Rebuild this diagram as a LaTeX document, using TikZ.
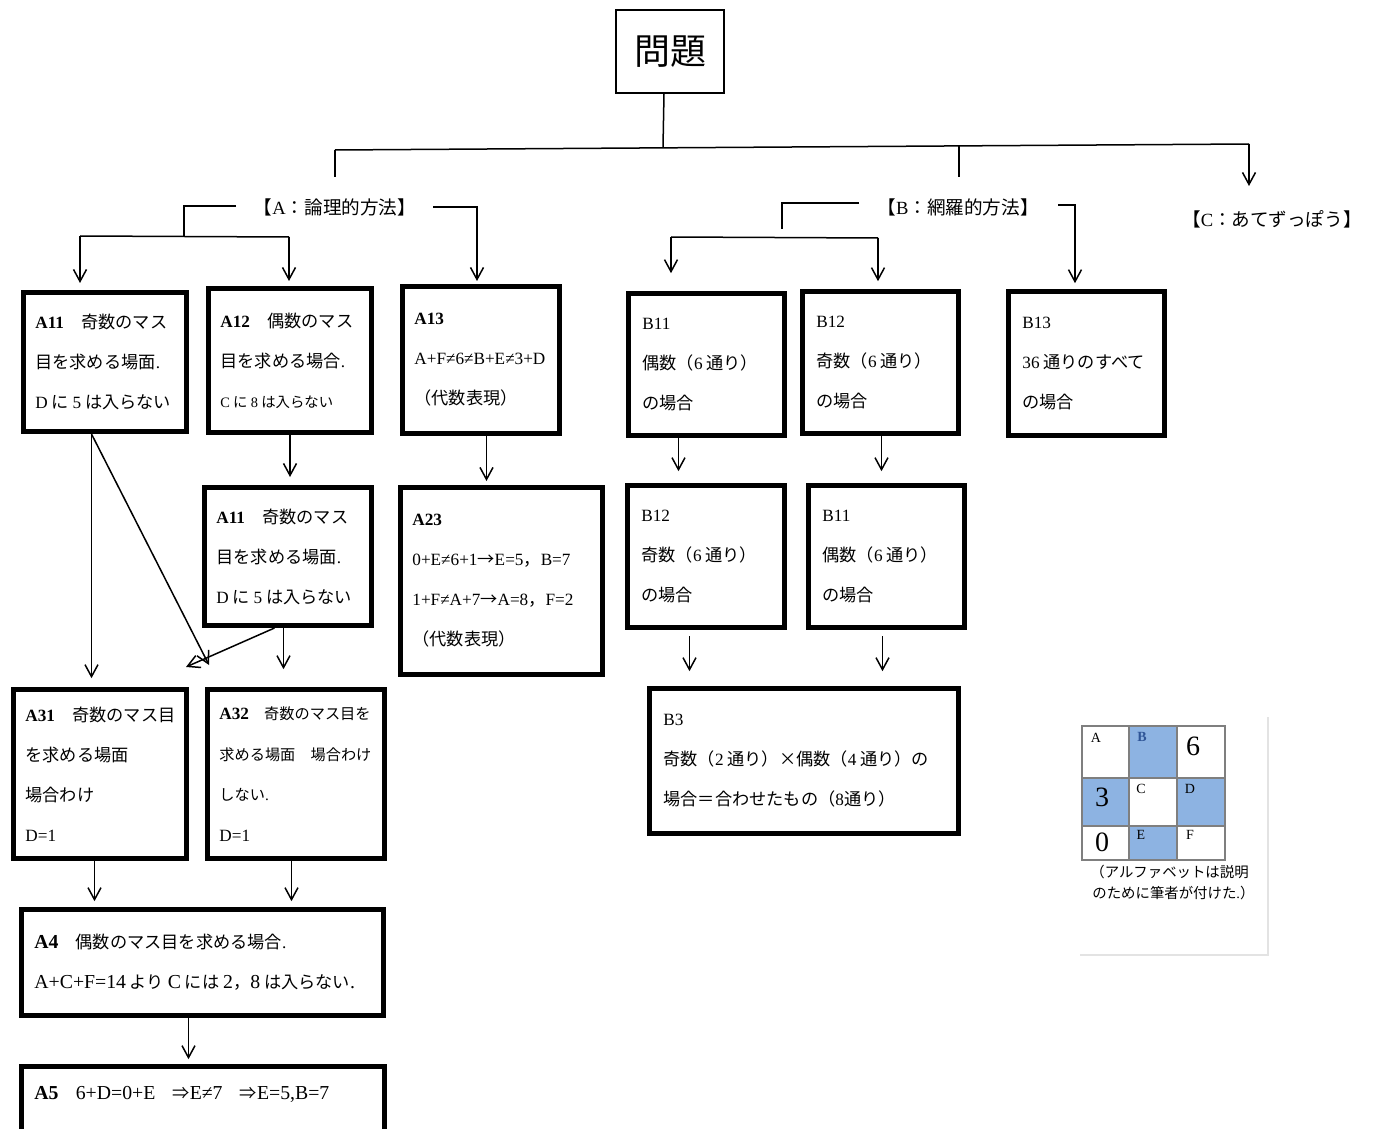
\documentclass[tikz,border=0pt]{standalone}
\usepackage{fontspec}
\setmainfont{Noto Sans CJK JP}
\newfontfamily\la{Liberation Serif}
\newfontfamily\lb[Scale=1.15]{Liberation Serif}
\usetikzlibrary{arrows.meta,calc}
\definecolor{cellblue}{HTML}{8DB3E2}
\definecolor{bletter}{HTML}{2F5597}
\definecolor{gridgray}{HTML}{7F7F7F}
\definecolor{framegray}{HTML}{E3E3E3}
\tikzset{
  con/.style={line width=0.75pt},
  arr/.style={con,-{Straight Barb[length=6pt,width=6.5pt,line width=0.75pt]}},
  box/.style={draw,line width=2.5pt,anchor=north west,inner sep=0pt},
  txt/.style={anchor=west,align=left,inner sep=0pt,font=\fontsize{8.6pt}{20pt}\selectfont},
  head/.style={inner sep=0pt,font=\fontsize{9.3pt}{11pt}\selectfont},
  cellsmall/.style={inner sep=0pt,font=\la\fontsize{7pt}{8pt}\selectfont},
  cellbig/.style={inner sep=0pt,font=\la\fontsize{14pt}{15pt}\selectfont},
  capt/.style={anchor=west,inner sep=0pt,font=\fontsize{7.2pt}{8pt}\selectfont},
}
\begin{document}
\begin{tikzpicture}[x=0.5pt,y=-0.5pt]
\useasboundingbox (0,0) rectangle (1373,1129);

% ---------- boxes ----------
\node[draw,line width=1pt,anchor=north west,inner sep=0pt,minimum width=54pt,minimum height=41.5pt,font=\fontsize{18pt}{20pt}\selectfont] (mondai) at (615,9) {問題};

\node[box,minimum width=81.5pt,minimum height=69.5pt] (a11) at (21,290) {};
\node[box,minimum width=81.5pt,minimum height=72pt] (a12) at (206,286) {};
\node[box,minimum width=78.5pt,minimum height=73.5pt] (a13) at (400,284) {};
\node[box,minimum width=83.5pt,minimum height=69pt] (a11b) at (202,485) {};
\node[box,minimum width=101pt,minimum height=93.5pt] (a23) at (398,485) {};
\node[box,minimum width=86.5pt,minimum height=84.5pt] (a31) at (11,687) {};
\node[box,minimum width=88.5pt,minimum height=84.5pt] (a32) at (205,687) {};
\node[box,minimum width=181pt,minimum height=53pt] (a4) at (19,907) {};
\node[box,minimum width=181.5pt,minimum height=53pt] (a5) at (19,1064) {};

\node[box,minimum width=78pt,minimum height=71pt] (b11) at (626,291) {};
\node[box,minimum width=78pt,minimum height=71pt] (b12) at (800,289) {};
\node[box,minimum width=78pt,minimum height=72pt] (b13) at (1006,289) {};
\node[box,minimum width=78.5pt,minimum height=71pt] (b12b) at (625,483) {};
\node[box,minimum width=78pt,minimum height=71pt] (b11b) at (806,483) {};
\node[box,minimum width=154.5pt,minimum height=72.5pt] (b3) at (647,686) {};

% ---------- box texts ----------
\node[txt] (a11t) at ([xshift=7pt]a11.west) {{\la\bfseries A11}　奇数のマス\\目を求める場面{\la .}\\{\la D} に {\la 5} は入らない};
\node[txt] (a12t) at ([xshift=7pt]a12.west) {{\la\bfseries A12}　偶数のマス\\目を求める場合{\la .}\\{\fontsize{7.2pt}{20pt}\selectfont{\la C} に {\la 8} は入らない}};
\node[txt] (a13t) at ([xshift=7pt]a13.west) {{\la\bfseries A13}\\{\la A+F≠6≠B+E≠3+D}\\（代数表現）};
\node[txt] (a11bt) at ([xshift=7pt]a11b.west) {{\la\bfseries A11}　奇数のマス\\目を求める場面{\la .}\\{\la D} に {\la 5} は入らない};
\node[txt] (a23t) at ([xshift=7pt]a23.west) {{\la\bfseries A23}\\{\la 0+E≠6+1}→{\la E=5}，{\la B=7}\\{\la 1+F≠A+7}→{\la A=8}，{\la F=2}\\（代数表現）};
\node[txt] (a31t) at ([xshift=7pt]a31.west) {{\la\bfseries A31}　奇数のマス目\\を求める場面\\場合わけ\\{\la D=1}};
\node[txt,font=\fontsize{7.6pt}{20.3pt}\selectfont] (a32t) at ([xshift=7pt]a32.west) {{\la\bfseries\fontsize{8.6pt}{20.3pt}\selectfont A32}　奇数のマス目を\\求める場面　場合わけ\\しない{\la .}\\{\la\fontsize{8.6pt}{20.3pt}\selectfont D=1}};
\node[txt] (a4t) at ([xshift=7.5pt]a4.west) {{\lb\bfseries A4}　偶数のマス目を求める場合{\la .}\\{\lb A+C+F=14} より {\lb C} には {\lb 2}，{\lb 8} は入らない{\lb .}};
\node[txt] (a5t) at ([xshift=7.5pt,yshift=-15pt]a5.north west) {{\lb\bfseries A5}　{\lb 6+D=0+E}　⇒{\lb E≠7}　⇒{\lb E=5,B=7}};

\node[txt] (b11t) at ([xshift=8pt]b11.west) {{\la B11}\\偶数（{\la 6} 通り）\\の場合};
\node[txt] (b12t) at ([xshift=8pt]b12.west) {{\la B12}\\奇数（{\la 6} 通り）\\の場合};
\node[txt] (b13t) at ([xshift=8pt]b13.west) {{\la B13}\\{\la 36} 通りのすべて\\の場合};
\node[txt] (b12bt) at ([xshift=8pt]b12b.west) {{\la B12}\\奇数（{\la 6} 通り）\\の場合};
\node[txt] (b11bt) at ([xshift=8pt]b11b.west) {{\la B11}\\偶数（{\la 6} 通り）\\の場合};
\node[txt] (b3t) at ([xshift=8pt]b3.west) {{\la B3}\\奇数（{\la 2} 通り）×偶数（{\la 4} 通り）の\\場合＝合わせたもの（{\la 8}通り）};

% ---------- headings ----------
\node[head] (labA) at (335,207) {【{\la A}：論理的方法】};
\node[head] (labB) at (958,207) {【{\la B}：網羅的方法】};
\node[head] (labC) at (1272,219) {【{\la C}：あてずっぽう】};

% ---------- top connectors ----------
\coordinate (busL) at (335,150);
\coordinate (busR) at (1249,144);
\coordinate (busM) at (663,147);
\coordinate (dropA) at (335,177);
\coordinate (busB) at (959,146);
\coordinate (dropB) at (959,177);
\coordinate (arrC) at (1249,186);
\draw[con] ([xshift=-3pt]mondai.south) -- (busM);
\draw[con] (busL) -- (busR);
\draw[con] (busL) -- (dropA);
\draw[con] (busB) -- (dropB);
\draw[arr] (busR) -- (arrC);

% ---------- A branch ----------
\coordinate (aL0) at (236,206);
\coordinate (aL1) at (184,206);
\coordinate (aL2) at (184,236);
\coordinate (aH1) at (80,236);
\coordinate (aH2) at (289,237);
\draw[con] (aL0) -- (aL1) -- (aL2);
\draw[con] (aH1) -- (aH2);
\draw[arr,shorten >=3.5pt] (aH1) -- (aH1 |- a11.north);
\draw[arr,shorten >=2.5pt] (aH2) -- (aH2 |- a12.north);
\coordinate (aR0) at (433,207);
\coordinate (aR1) at (477,207);
\draw[arr,shorten >=1.5pt] (aR0) -- (aR1) -- (aR1 |- a13.north);

\draw[arr,shorten >=4pt] (a12.south) -- (a12.south |- a11b.north);
\draw[arr,shorten >=2pt] ([xshift=2.75pt]a13.south) -- ([xshift=2.75pt]a13.south |- a23.north);

\coordinate (a11s) at ([xshift=-6.75pt]a11.south);
\coordinate (x1tip) at (209,665);
\draw[arr,shorten >=4.4pt] (a11s) -- (a11s |- a31.north);
\draw[arr] (a11s) -- (x1tip);
\coordinate (a11bs) at ([xshift=-6.75pt]a11b.south);
\coordinate (x2tip) at (186,667);
\draw[arr] (a11bs) -- (x2tip);
\draw[arr,shorten >=8.9pt] ([xshift=-2.25pt]a11b.south) -- ([xshift=-2.25pt]a11b.south |- a32.north);

\draw[arr,shorten >=2.9pt] ([xshift=-2.75pt]a31.south) -- ([xshift=-2.75pt]a31.south |- a4.north);
\draw[arr,shorten >=2.9pt] ([xshift=-2.25pt]a32.south) -- ([xshift=-2.25pt]a32.south |- a4.north);
\draw[arr,shorten >=2.4pt] ([xshift=-7pt]a4.south) -- ([xshift=-7pt]a4.south |- a5.north);

% ---------- B branch ----------
\coordinate (bL0) at (859,203);
\coordinate (bL1) at (782,203);
\coordinate (bL2) at (782,229);
\coordinate (bH1) at (671,237);
\coordinate (bH2) at (878,238);
\draw[con] (bL0) -- (bL1) -- (bL2);
\draw[con] (bH1) -- (bH2);
\draw[arr,shorten >=8.9pt] (bH1) -- (bH1 |- b11.north);
\draw[arr,shorten >=3.9pt] (bH2) -- (bH2 |- b12.north);
\coordinate (bR0) at (1058,205);
\coordinate (bR1) at (1075,205);
\draw[arr,shorten >=2.9pt] (bR0) -- (bR1) -- (bR1 |- b13.north);

\draw[arr,shorten >=5.9pt] ([xshift=-14pt]b11.south) -- ([xshift=-14pt]b11.south |- b12b.north);
\draw[arr,shorten >=5.9pt] ([xshift=0.5pt]b12.south) -- ([xshift=0.5pt]b12.south |- b11b.north);
\draw[arr,shorten <=3pt,shorten >=7.4pt] ([xshift=-8.25pt]b12b.south) -- ([xshift=-8.25pt]b12b.south |- b3.north);
\draw[arr,shorten <=3pt,shorten >=7.4pt] ([xshift=-2pt]b11b.south) -- ([xshift=-2pt]b11b.south |- b3.north);

% ---------- grid figure ----------
\draw[framegray,line width=0.75pt] (1268,717) -- (1268,955) -- (1080,955);
\fill[cellblue] (1129,726) rectangle (1177,778);
\fill[cellblue] (1082,778) rectangle (1129,826);
\fill[cellblue] (1177,778) rectangle (1225,826);
\fill[cellblue] (1129,826) rectangle (1177,860);
\draw[gridgray,line width=0.75pt] (1082,726) rectangle (1225,860);
\draw[gridgray,line width=0.75pt] (1129,726) -- (1129,860);
\draw[gridgray,line width=0.75pt] (1177,726) -- (1177,860);
\draw[gridgray,line width=0.75pt] (1082,778) -- (1225,778);
\draw[gridgray,line width=0.75pt] (1082,826) -- (1225,826);
\node[cellsmall] (cA) at (1096,738) {A};
\node[cellsmall,text=bletter] (cB) at (1142,737) {\bfseries B};
\node[cellbig] (c6) at (1193,746) {6};
\node[cellbig] (c3) at (1102,797) {3};
\node[cellsmall] (cC) at (1141,789) {C};
\node[cellsmall] (cD) at (1190,789) {D};
\node[cellbig] (c0) at (1102,842) {0};
\node[cellsmall] (cE) at (1141,835) {E};
\node[cellsmall] (cF) at (1190,835) {F};
\node[capt] (cap1) at (1090,872) {（アルファベットは説明};
\node[capt] (cap2) at (1092,893) {のために筆者が付けた{\la .}）};

\end{tikzpicture}
\end{document}
